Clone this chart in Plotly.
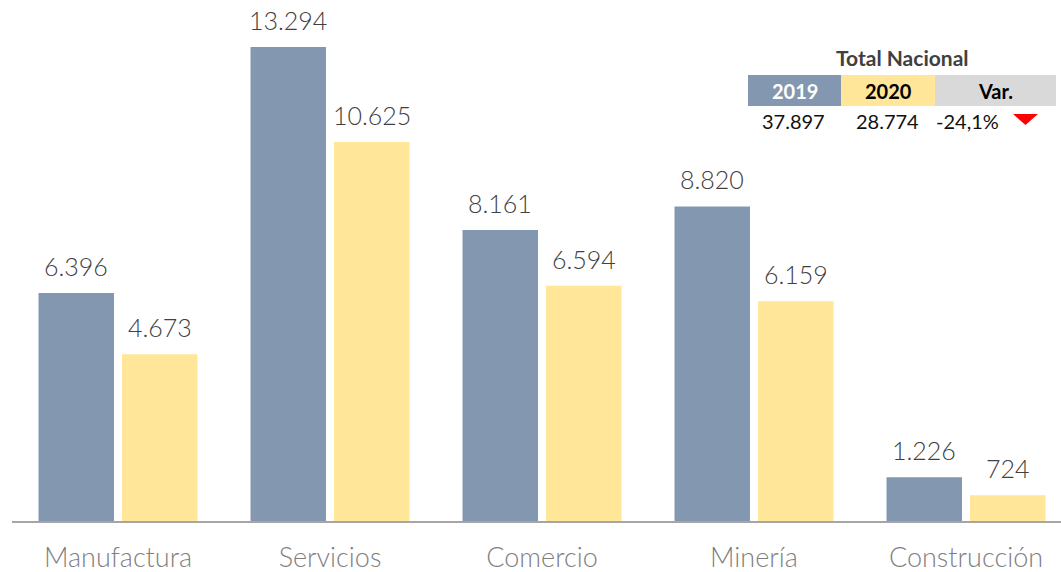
import plotly.graph_objects as go

categories = ["Manufactura", "Servicios", "Comercio", "Minería", "Construcción"]
values_2019 = [6396, 13294, 8161, 8820, 1226]
values_2020 = [4673, 10625, 6594, 6159, 724]
series_names = ["2019", "2020"]

# Summary table (as printed on the chart)
table_title = "Total Nacional"
table_headers = ["2019", "2020", "Var."]
total_values = [37897, 28774]
total_var_pct = -24.1

BLUE = "#8497B0"
YELLOW = "#FFE699"
GRAY_CELL = "#D9D9D9"
FONT = "Lato"

W, H = 1061, 572
ML, MR, MT, MB = 12, 0, 0, 51
PW = W - ML - MR
PH = H - MT - MB


def px(x):
    return (x - ML) / PW


def py(y):
    return (H - MB - y) / PH


def fmt(n):
    return f"{n:,.0f}".replace(",", ".")


fig = go.Figure()
series = [(series_names[0], values_2019, BLUE, -42), (series_names[1], values_2020, YELLOW, 42)]
for name, vals, col, _ in series:
    fig.add_trace(go.Bar(
        x=categories, y=vals, name=name, marker=dict(color=col, line=dict(width=0)),
        hoverinfo="x+y",
    ))

# value labels above bars
for name, vals, col, dx in series:
    for c, v in zip(categories, vals):
        fig.add_annotation(x=c, y=v, xref="x", yref="y", text=fmt(v), showarrow=False,
                           xanchor="center", yanchor="bottom", xshift=dx, yshift=10,
                           font=dict(family=FONT, size=25, color="#404040", weight=300))

fig.update_layout(
    width=W, height=H,
    margin=dict(l=ML, r=MR, t=MT, b=MB, pad=0),
    paper_bgcolor="white", plot_bgcolor="white",
    barmode="group", bargap=0.2123, bargroupgap=0.096,
    separators=",.",
    showlegend=False,
    font=dict(family=FONT),
    xaxis=dict(
        range=[-0.5, -0.5 + PW / 212], showline=True, linecolor="#A6A6A6", linewidth=2,
        ticks="", tickfont=dict(family=FONT, size=27, color="#7F7F7F", weight=300),
        ticklabelstandoff=12, showgrid=False, zeroline=False,
    ),
    yaxis=dict(range=[0, 14610], visible=False, showgrid=False, zeroline=False),
)

cells = [
    (748, 841, BLUE, table_headers[0], "white"),
    (841, 935, YELLOW, table_headers[1], "black"),
    (935, 1056, GRAY_CELL, table_headers[2], "black"),
]
for x0, x1, col, label, tcol in cells:
    fig.add_shape(type="rect", xref="paper", yref="paper",
                  x0=px(x0), x1=px(x1), y0=py(106), y1=py(75),
                  fillcolor=col, line=dict(width=0), layer="above")
    fig.add_annotation(xref="paper", yref="paper", x=px((x0 + x1) / 2), y=py(91),
                       text=f"<b>{label}</b>", showarrow=False,
                       font=dict(family=FONT, size=20, color=tcol),
                       xanchor="center", yanchor="middle")

fig.add_annotation(xref="paper", yref="paper", x=px(902), y=py(58),
                   text=f"<b>{table_title}</b>", showarrow=False,
                   font=dict(family=FONT, size=21, color="#404040"),
                   xanchor="center", yanchor="middle")

row_vals = [(793, fmt(total_values[0])), (887, fmt(total_values[1])),
            (967, f"{total_var_pct:.1f}%".replace(".", ","))]
for xc, txt in row_vals:
    fig.add_annotation(xref="paper", yref="paper", x=px(xc), y=py(121),
                       text=txt, showarrow=False,
                       font=dict(family=FONT, size=20, color="#111111"),
                       xanchor="center", yanchor="middle")

# red down triangle
fig.add_shape(type="path", xref="paper", yref="paper",
              path=f"M {px(1013)} {py(114)} L {px(1038)} {py(114)} L {px(1025.5)} {py(125)} Z",
              fillcolor="#FF0000", line=dict(width=0), layer="above")

fig.write_html("out.html", config={"displayModeBar": False},
               post_script="document.body.style.margin='0';")
